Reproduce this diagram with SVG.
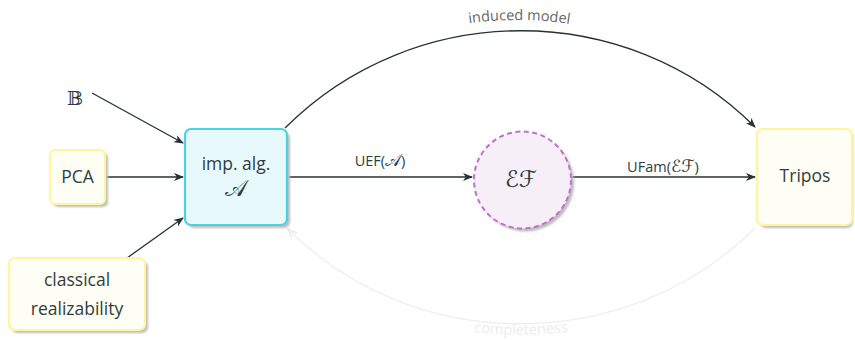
<svg xmlns="http://www.w3.org/2000/svg" width="855" height="340" viewBox="0 0 855 340">
  <style>
    .lbl { font-family: "Open Sans", "Lato", "DejaVu Sans", sans-serif; fill: #2f3d42; }
    .node-text { font-size: 17.5px; text-anchor: middle; }
    .edge-text { font-size: 14.5px; text-anchor: middle; }
    .math { font-family: "DejaVu Serif", "DejaVu Sans", serif; fill: #2f3d42; text-anchor: middle; }
    .yellow { fill: #fffef4; stroke: #fff59d; stroke-width: 2.2; }
    .cyan { fill: #e8f9fc; stroke: #4dd0e1; stroke-width: 2.2; }
    .purple { fill: #f7eff8; stroke: #c36fd0; stroke-width: 2; stroke-dasharray: 5 3.5; }
    .shadow { fill: #bdbdbd; filter: url(#soft); }
    .edge { fill: none; stroke: #263238; stroke-width: 1.3; marker-end: url(#arr); }
    .faint { fill: none; stroke: #eeeeee; stroke-width: 1.3; marker-end: url(#arrFaint); }
  </style>
  <defs>
    <filter id="soft" x="-10%" y="-10%" width="120%" height="120%">
      <feGaussianBlur stdDeviation="0.8"/>
    </filter>
    <marker id="arr" viewBox="0 0 10 8" refX="9" refY="4" markerWidth="10" markerHeight="8" markerUnits="userSpaceOnUse" orient="auto">
      <path d="M0,0 L10,4 L0,8 L2.8,4 z" fill="#263238"/>
    </marker>
    <marker id="arrFaint" viewBox="0 0 10 8" refX="9" refY="4" markerWidth="10" markerHeight="8" markerUnits="userSpaceOnUse" orient="auto">
      <path d="M0,0.5 L9.5,4 L0,7.5" fill="none" stroke="#e6e6e6" stroke-width="1.2"/>
    </marker>
    <path id="topLabelPath" d="M 279,118 C 409,-12 621,-13 761,117"/>
    <path id="bottomLabelPath" d="M 277,240 C 414,367 628,366 765,239"/>
  </defs>

  <!-- connectors -->
  <g id="connectors">
    <path class="edge" d="M 92,93 L 183,143"/>
    <path class="edge" d="M 106,177 L 183,177"/>
    <path class="edge" d="M 127,258 L 183,218"/>
    <path class="edge" d="M 288,177 L 472,177"/>
    <path class="edge" d="M 572,177 L 755,177"/>
    <path class="edge" d="M 285,128 C 414,-1 626,-2 755,127"/>
    <path class="faint" d="M 755,228 C 628,355 414,356 288,229"/>
    <text class="lbl edge-text" style="fill:#666"><textPath href="#topLabelPath" startOffset="50%">induced model</textPath></text>
    <text class="lbl edge-text" style="fill:#ececec"><textPath href="#bottomLabelPath" startOffset="50%">completeness</textPath></text>
    <text class="lbl edge-text" x="380" y="166">UEF(<tspan class="math" style="font-size:17px">𝒜</tspan>)</text>
    <text class="lbl edge-text" x="663" y="172">UFam(<tspan class="math" style="font-size:17px">ℰℱ</tspan>)</text>
  </g>

  <!-- nodes -->
  <g id="node-B">
    <text class="math" x="75" y="105" font-size="19">𝔹</text>
  </g>

  <g id="node-PCA">
    <rect class="shadow" x="53" y="153" width="55" height="54" rx="5"/>
    <rect class="yellow" x="50" y="150" width="55" height="54" rx="5"/>
    <text class="lbl node-text" x="77.5" y="183">PCA</text>
  </g>

  <g id="node-classical">
    <rect class="shadow" x="12" y="261" width="136" height="72" rx="6"/>
    <rect class="yellow" x="9" y="258" width="136" height="72" rx="6"/>
    <text class="lbl node-text" x="77" y="286">classical</text>
    <text class="lbl node-text" x="77" y="315">realizability</text>
  </g>

  <g id="node-impalg">
    <rect class="shadow" x="188" y="132" width="102" height="96" rx="6"/>
    <rect class="cyan" x="185" y="129" width="102" height="96" rx="6"/>
    <text class="lbl node-text" x="236" y="170">imp. alg.</text>
    <text class="math" x="236" y="196" font-size="23">𝒜</text>
  </g>

  <g id="node-EF">
    <circle class="shadow" cx="525.5" cy="183" r="48.5"/>
    <circle class="purple" cx="522.5" cy="180" r="48.5"/>
    <text class="math" x="521" y="187" font-size="23">ℰℱ</text>
  </g>

  <g id="node-Tripos">
    <rect class="shadow" x="760" y="132" width="93" height="96" rx="6"/>
    <rect class="yellow" x="757" y="129" width="95" height="96" rx="6"/>
    <text class="lbl node-text" x="805" y="182">Tripos</text>
  </g>
</svg>
